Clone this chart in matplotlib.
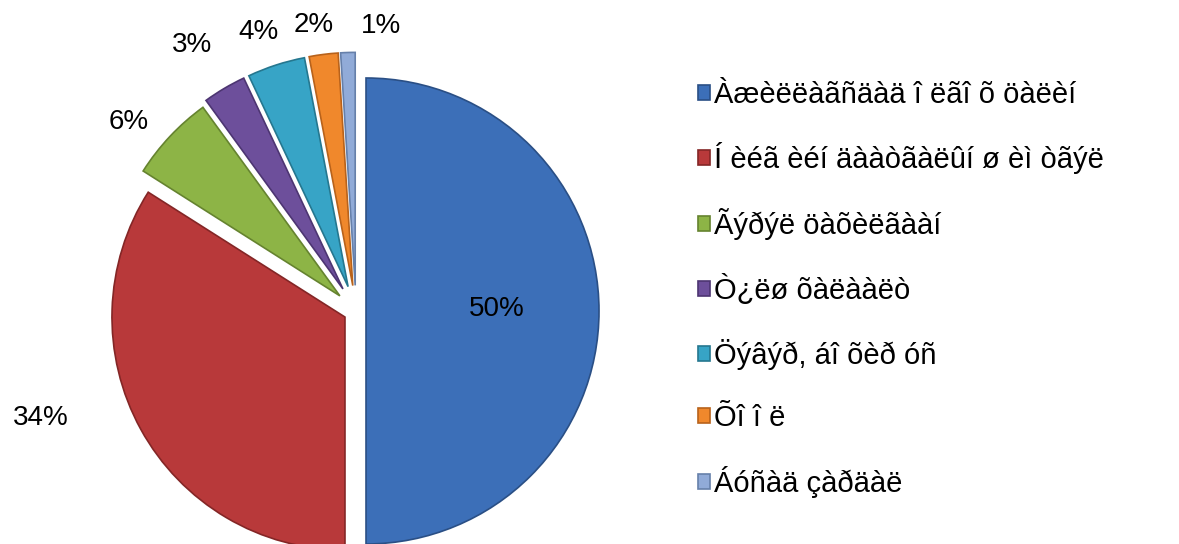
import matplotlib
matplotlib.use("Agg")
import matplotlib.pyplot as plt
import numpy as np

plt.rcParams['font.family'] = ['Liberation Sans', 'DejaVu Sans']

# data
categories = [
    "Àæèëëàãñäàä î ëãî õ öàëèí",
    "Í èéã èéí äààòãàëûí ø èì òãýë",
    "Ãýðýë öàõèëãààí",
    "Ò¿ëø õàëààëò",
    "Öýâýð, áî õèð óñ",
    "Õî î ë",
    "Áóñàä çàðäàë",
]
shares = [50, 34, 6, 3, 4, 2, 1]

colors = ["#3c6fb8", "#b8393a", "#8db446", "#6d4f9b", "#37a4c6", "#f0882c", "#91abd8"]
edges = ["#2a4f85", "#842626", "#65832f", "#4d3572", "#25778f", "#b8621b", "#6680aa"]
# explosion as fraction of the radius
explode = [0.043, 0.054, 0.095, 0.11, 0.11, 0.11, 0.11]
# label placement (radius fraction, angle nudge in degrees)
label_dist = [0.605, 1.43, 1.27, 1.34, 1.27, 1.24, 1.23]
label_nudge = [1, -10, 3.5, 1, 1.3, 1.2, -6.8]

fig = plt.figure(figsize=(11.79, 5.44), dpi=100)
ax = fig.add_axes([0, 0, 1, 1])

R = 233
cx, cy = 356, 233
wedges, _ = ax.pie(shares, colors=colors, explode=[e * R for e in explode],
                   startangle=90, counterclock=False, radius=R, center=(cx, cy),
                   frame=True, wedgeprops=dict(linewidth=1.2))
for w, ec in zip(wedges, edges):
    w.set_edgecolor(ec)

ax.set_xlim(0, 1179)
ax.set_ylim(0, 544)
ax.set_aspect('equal')
ax.axis('off')

for w, val, d, nud in zip(wedges, shares, label_dist, label_nudge):
    ang = np.deg2rad((w.theta1 + w.theta2) / 2 + nud)
    ax.text(cx + d * R * np.cos(ang), cy + d * R * np.sin(ang), f"{val}%",
            ha='center', va='center', fontsize=20, color='black')

leg = ax.legend(wedges, categories, loc='upper left',
                bbox_to_anchor=(0.592, 0.852), bbox_transform=fig.transFigure,
                frameon=False, fontsize=21, handlelength=0.42, handleheight=0.42,
                handletextpad=0.12, labelspacing=1.16, borderpad=0, borderaxespad=0)

fig.savefig("out.png", dpi=100)
